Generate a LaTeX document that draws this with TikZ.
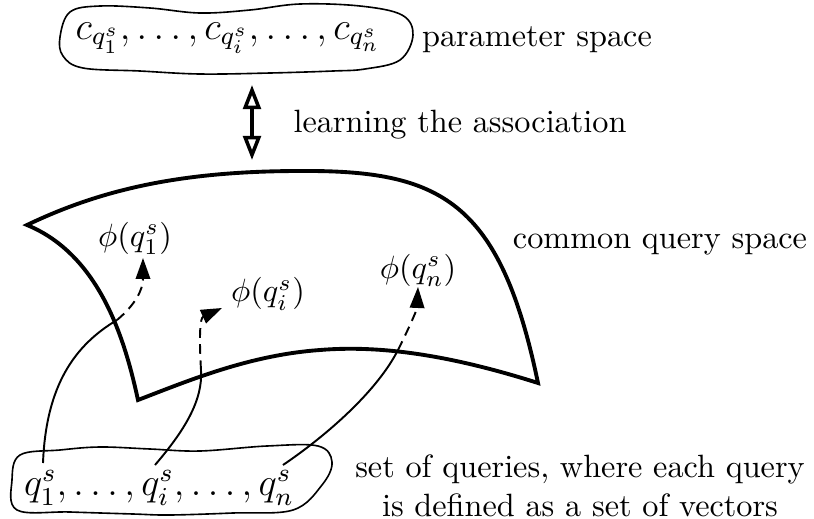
\documentclass[tikz,border=0pt]{standalone}
\usepackage{amsmath,amssymb}
\usetikzlibrary{
  arrows.meta,
  positioning,
  calc
}

\begin{document}
\begin{tikzpicture}[
  x=0.31pt, y=-0.31pt,
  surf/.style={line width=1.2pt, line join=miter},
  blob/.style={line width=0.5pt},
  link/.style={line width=0.6pt},
  hidden/.style={line width=0.6pt, dash pattern=on 3pt off 2pt,
                 -{Triangle[length=6.5pt,width=4.5pt]}},
  assoc/.style={line width=1.1pt,
                {Triangle[open,length=7.5pt,width=5.5pt]}-{Triangle[open,length=7.5pt,width=5.5pt]}},
  note/.style={align=center, inner sep=1pt}
]
  \useasboundingbox (0,0) rectangle (814,519);

  % parameter space
  \node (params) at (228,38) {\large $c_{q_1^s},\ldots,c_{q_i^s},\ldots,c_{q_n^s}$};
  \draw[blob] plot[smooth cycle, tension=0.6] coordinates {
    (60,37) (70,12) (100,6) (150,8) (200,13) (250,10) (300,4) (360,6)
    (402,15) (413,35) (400,60) (365,69) (333,71) (270,73) (200,74)
    (140,71) (83,68) (63,56)};
  \node[note] (plabel) at (537,40) {parameter space};

  % association
  \coordinate (atop) at (252,85);
  \coordinate (abot) at (252,160);
  \draw[assoc] (atop) -- (abot);
  \node[note] (alabel) at (460,125) {learning the association};

  % common query space
  \draw[surf] (27,225) .. controls (100,190) and (180,171) .. (300,171)
    .. controls (440,170) and (500,200) .. (538,383)
    .. controls (450,355) and (380,345) .. (320,350)
    .. controls (250,355) and (190,380) .. (138,400)
    .. controls (125,340) and (100,255) .. cycle;
  \node[note] (slabel) at (660,245) {common query space};

  \node (phi1) at (135,238) {$\phi(q_1^s)$};
  \node (phii) at (268,294) {$\phi(q_i^s)$};
  \node (phin) at (418,270) {$\phi(q_n^s)$};

  % set of queries
  \node (queries) at (159,488) {\large $q_1^s,\ldots,q_i^s,\ldots,q_n^s$};
  \draw[blob] plot[smooth cycle, tension=0.6] coordinates {
    (12,480) (20,455) (60,450) (100,447) (150,449) (200,451) (267,446)
    (318,446) (332,462) (322,485) (293,510) (233,513) (170,515)
    (133,514) (70,512) (17,510)};
  \node[note] (qlabel) at (580,486) {set of queries, where each query\\is defined as a set of vectors};

  % mappings
  \coordinate (q1) at (43,463);
  \coordinate (qi) at (155,465);
  \coordinate (qn) at (283,465);
  \coordinate (x1) at (117,320);
  \coordinate (xi) at (201,370);
  \coordinate (xn) at (398,350);
  \coordinate (t1) at (143,258);
  \coordinate (ti) at (222,308);
  \coordinate (tn) at (418,287);

  \draw[link] (q1) .. controls (46,385) and (75,345) .. (x1);
  \draw[hidden] (x1) .. controls (135,305) and (143,290) .. (t1);
  \draw[link] (qi) .. controls (185,430) and (203,400) .. (xi);
  \draw[hidden] (xi) .. controls (199,335) and (200,318) .. (ti);
  \draw[link] (qn) .. controls (320,440) and (375,395) .. (xn);
  \draw[hidden] (xn) .. controls (408,330) and (417,310) .. (tn);
\end{tikzpicture}
\end{document}
